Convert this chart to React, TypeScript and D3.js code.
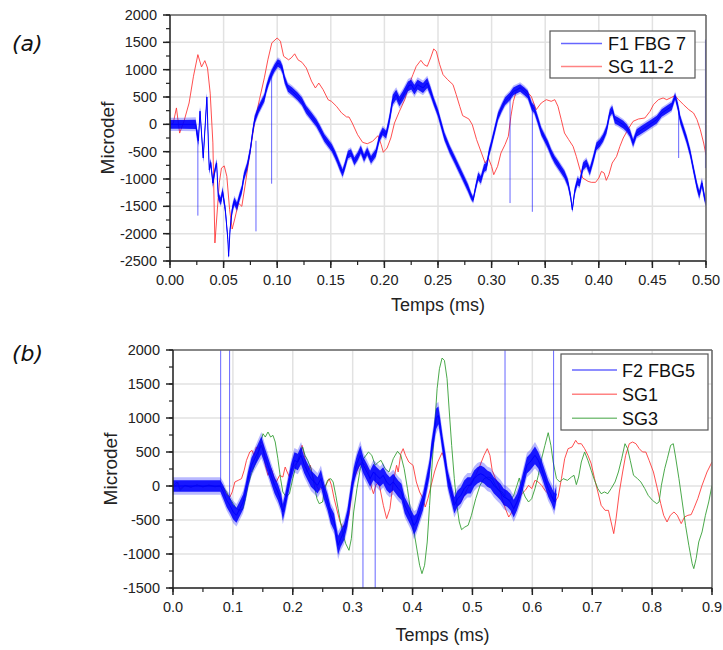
import React from 'react';
import * as d3 from 'd3';

type P2 = [number, number];
type P3 = [number, number, number];

// ---------- Panel (a) ----------
const aXTicks = [0, 0.05, 0.1, 0.15, 0.2, 0.25, 0.3, 0.35, 0.4, 0.45, 0.5];
const aYTicks = [-2500, -2000, -1500, -1000, -500, 0, 500, 1000, 1500, 2000];
const aSeriesNames = ['F1 FBG 7', 'SG 11-2'];

// F1 FBG 7: [time, centre, half-width of the noise band]
const fbg7: P3[] = [
  [0, 0, 80], [0.012, 0, 80], [0.024, 0, 85], [0.025, -150, 90], [0.0265, -300, 80], [0.028, 240, 70],
  [0.031, -616, 70], [0.0344, 500, 60], [0.0366, -830, 70], [0.038, -700, 60], [0.04, -1074, 70],
  [0.042, -830, 60], [0.0435, -708, 60], [0.045, -1318, 60], [0.0475, -1409, 70], [0.049, -1226, 70],
  [0.0516, -1562, 70], [0.054, -2110, 60], [0.0547, -2415, 40], [0.056, -1928, 60], [0.058, -1562, 70],
  [0.06, -1409, 70], [0.0625, -1500, 70], [0.065, -1318, 70], [0.067, -1196, 70], [0.069, -952, 70],
  [0.072, -769, 70], [0.075, -464, 70], [0.077, -159, 70], [0.079, 85, 70], [0.0825, 268, 70],
  [0.0856, 390, 70], [0.088, 482, 70], [0.0897, 634, 70], [0.092, 787, 70], [0.0944, 909, 70],
  [0.0975, 1031, 70], [0.1006, 1122, 70], [0.103, 1092, 70], [0.105, 1000, 70], [0.107, 817, 70],
  [0.11, 665, 70], [0.114, 604, 70], [0.119, 512, 70], [0.123, 421, 70], [0.127, 268, 70],
  [0.1319, 146, 70], [0.1366, 24, 70], [0.14, -98, 70], [0.144, -250, 70], [0.1475, -342, 70],
  [0.151, -433, 70], [0.154, -555, 70], [0.156, -647, 70], [0.1584, -769, 70], [0.161, -890, 70],
  [0.163, -769, 70], [0.166, -555, 70], [0.1688, -525, 70], [0.172, -677, 70], [0.175, -586, 70],
  [0.178, -464, 70], [0.181, -616, 70], [0.184, -494, 70], [0.1875, -647, 70], [0.192, -525, 70],
  [0.1953, -250, 70], [0.1984, -128, 70], [0.2016, -189, 70], [0.2047, 85, 80], [0.2078, 451, 90],
  [0.211, 543, 90], [0.214, 421, 90], [0.217, 512, 90], [0.222, 695, 90], [0.225, 726, 90],
  [0.228, 634, 90], [0.231, 726, 90], [0.236, 665, 90], [0.24, 756, 90], [0.243, 604, 80],
  [0.246, 421, 70], [0.25, 207, 70], [0.253, -6, 70], [0.256, -220, 70], [0.261, -464, 70],
  [0.2656, -647, 70], [0.27, -830, 70], [0.2744, -1013, 70], [0.278, -1165, 70], [0.281, -1318, 60],
  [0.2828, -1379, 50], [0.285, -1165, 60], [0.2875, -952, 70], [0.29, -1013, 70], [0.293, -800, 70],
  [0.2953, -769, 70], [0.2975, -525, 70], [0.3, -342, 70], [0.303, -98, 70], [0.306, 146, 70],
  [0.3094, 299, 70], [0.3125, 421, 70], [0.317, 512, 70], [0.3203, 604, 70], [0.3234, 634, 70],
  [0.3266, 665, 70], [0.3306, 604, 70], [0.3338, 543, 70], [0.3375, 329, 70], [0.34, 268, 70],
  [0.343, 85, 70], [0.3463, -128, 70], [0.3494, -250, 70], [0.3525, -372, 70], [0.3556, -525, 70],
  [0.3588, -647, 70], [0.3619, -738, 70], [0.365, -830, 70], [0.368, -921, 70], [0.3712, -1074, 70],
  [0.3737, -1318, 60], [0.3753, -1562, 40], [0.3775, -1226, 60], [0.38, -1043, 70], [0.3822, -1074, 70],
  [0.3853, -769, 70], [0.3884, -708, 70], [0.3916, -860, 70], [0.3947, -647, 70], [0.3978, -403, 70],
  [0.401, -342, 70], [0.404, -250, 70], [0.4072, -98, 70], [0.4103, 207, 70], [0.4125, 268, 70],
  [0.415, 85, 70], [0.418, 55, 70], [0.4228, -6, 70], [0.426, -67, 70], [0.429, -159, 70],
  [0.432, -342, 70], [0.4353, -159, 70], [0.44, -98, 70], [0.4447, -37, 70], [0.4494, 24, 70],
  [0.4541, 85, 70], [0.4587, 207, 70], [0.4634, 268, 70], [0.468, 329, 70], [0.4712, 512, 60],
  [0.4737, 329, 70], [0.476, 85, 70], [0.479, -98, 70], [0.482, -280, 70], [0.4853, -525, 70],
  [0.4884, -830, 70], [0.4916, -1135, 70], [0.4937, -1287, 70], [0.4962, -1074, 70], [0.4984, -1318, 70],
  [0.5, -1440, 60],
];
// isolated spikes of F1 FBG 7: [time, from, to]
const fbg7Spikes: P3[] = [
  [0.026, -100, -1670], [0.0802, -300, -1958], [0.0948, 900, -1086], [0.3172, 500, -1440],
  [0.338, 350, -1600], [0.4745, 300, -616], [0.4995, -800, 1550],
];
const sg112: P2[] = [
  [0, 0], [0.003, 20], [0.006, 300], [0.009, -160], [0.0131, 60], [0.0178, 390], [0.0219, 880],
  [0.026, 1275], [0.0294, 1050], [0.0325, 1165], [0.035, 1030], [0.0375, 570], [0.04, -340],
  [0.0419, -2170], [0.046, -1070], [0.048, -800], [0.0506, -760], [0.053, -950], [0.0556, -1560],
  [0.058, -1915], [0.0606, -1715], [0.0638, -1440], [0.067, -1500], [0.0709, -1010], [0.075, -460],
  [0.0788, 25], [0.0834, 450], [0.088, 850], [0.0913, 1180], [0.095, 1490], [0.1, 1580], [0.103, 1520],
  [0.106, 1245], [0.1106, 1180], [0.1131, 1215], [0.1163, 1290], [0.1194, 1180], [0.1231, 1135],
  [0.1272, 1030], [0.132, 790], [0.1356, 665], [0.1388, 755], [0.1428, 635], [0.1475, 450],
  [0.1506, 420], [0.1553, 330], [0.16, 210], [0.1647, 135], [0.167, 134], [0.17, 24], [0.175, -190],
  [0.1797, -330], [0.184, -355], [0.189, -310], [0.194, -207], [0.197, -370], [0.199, -512],
  [0.2025, -433], [0.206, -250], [0.2094, 24], [0.214, 238], [0.219, 451], [0.223, 726], [0.2266, 909],
  [0.2297, 1061], [0.234, 1171], [0.237, 1092], [0.24, 1061], [0.2431, 1214], [0.246, 1379],
  [0.2484, 1336], [0.2516, 1092], [0.2547, 909], [0.259, 817], [0.264, 726], [0.267, 543],
  [0.2703, 329], [0.273, 159], [0.2788, 98], [0.282, -6], [0.286, -280], [0.2906, -525], [0.294, -708],
  [0.297, -616], [0.3, -769], [0.302, -921], [0.3056, -769], [0.3087, -525], [0.3125, -372],
  [0.3156, -220], [0.318, 146], [0.3203, 421], [0.323, 604], [0.3266, 683], [0.3313, 634], [0.337, 512],
  [0.3416, 268], [0.3463, 390], [0.351, 451], [0.3556, 421], [0.359, 451], [0.3619, 329], [0.365, 85],
  [0.368, -159], [0.3719, -280], [0.376, -403], [0.379, -586], [0.382, -799], [0.385, -982],
  [0.39, -1043], [0.393, -1061], [0.397, -1061], [0.4, -982], [0.4025, -860], [0.405, -891],
  [0.407, -1025], [0.4094, -921], [0.4125, -708], [0.4166, -586], [0.4197, -403], [0.4228, -250],
  [0.4275, -85], [0.432, 55], [0.437, 98], [0.443, 116], [0.4478, 238], [0.451, 360], [0.4556, 451],
  [0.46, 482], [0.4634, 451], [0.468, 494], [0.471, 525], [0.4744, 451], [0.479, 360], [0.484, 268],
  [0.4884, 207], [0.4916, 85], [0.4947, -98], [0.4978, -342], [0.5, -560],
];

// ---------- Panel (b) ----------
const bXTicks = [0, 0.1, 0.2, 0.3, 0.4, 0.5, 0.6, 0.7, 0.8, 0.9];
const bYTicks = [-1500, -1000, -500, 0, 500, 1000, 1500, 2000];
const bSeriesNames = ['F2 FBG5', 'SG1', 'SG3'];

const fbg5: P3[] = [
  [0, 0, 85], [0.04, 0, 85], [0.079, 0, 85], [0.084, -88, 100], [0.0895, -210, 100], [0.095, -284, 110],
  [0.1006, -382, 110], [0.106, -431, 110], [0.1116, -333, 110], [0.117, -235, 110], [0.121, -88, 110],
  [0.1254, 108, 110], [0.131, 304, 110], [0.1365, 402, 110], [0.142, 500, 120], [0.1475, 598, 130],
  [0.153, 451, 120], [0.1586, 304, 120], [0.164, 157, 120], [0.1696, 10, 120], [0.175, -88, 120],
  [0.1807, -235, 120], [0.1834, -382, 120], [0.1873, -235, 120], [0.1917, -39, 120], [0.1972, 206, 120],
  [0.2028, 377, 120], [0.2083, 353, 120], [0.2138, 451, 130], [0.2193, 304, 120], [0.2249, 206, 120],
  [0.2304, 108, 120], [0.236, 59, 120], [0.2414, 10, 120], [0.247, 108, 130], [0.2525, -88, 120],
  [0.258, -235, 120], [0.2635, -431, 120], [0.269, -529, 120], [0.2718, -676, 120], [0.2757, -872, 140],
  [0.28, -774, 120], [0.2856, -676, 120], [0.291, -480, 120], [0.2967, -137, 120], [0.302, 157, 120],
  [0.307, 328, 120], [0.3127, 451, 140], [0.318, 304, 120], [0.3237, 206, 120], [0.3292, 108, 120],
  [0.3347, 206, 120], [0.34, 157, 120], [0.3457, 108, 120], [0.351, 157, 120], [0.3567, 59, 120],
  [0.362, 10, 120], [0.3678, 59, 120], [0.376, -39, 120], [0.3815, -88, 120], [0.387, -284, 120],
  [0.3926, -382, 120], [0.398, -480, 120], [0.4025, -578, 140], [0.4063, -529, 120], [0.4118, -382, 120],
  [0.4174, -235, 120], [0.4229, 10, 120], [0.4284, 255, 120], [0.4311, 500, 120], [0.4355, 745, 130],
  [0.4394, 990, 150], [0.4432, 1039, 130], [0.4466, 843, 120], [0.4504, 598, 120], [0.4548, 353, 120],
  [0.4587, 108, 120], [0.4642, -88, 120], [0.4697, -284, 120], [0.4752, -186, 120], [0.4807, -137, 120],
  [0.4862, -39, 120], [0.4917, 10, 120], [0.4972, 10, 120], [0.5028, 108, 120], [0.5083, 157, 120],
  [0.5138, 181, 120], [0.5193, 157, 120], [0.5248, 108, 120], [0.5303, 83, 120], [0.5358, 10, 120],
  [0.5413, -39, 120], [0.5468, -88, 120], [0.5524, -162, 120], [0.5579, -186, 120], [0.5634, -235, 120],
  [0.5689, -333, 130], [0.5744, -235, 120], [0.5799, -88, 120], [0.5854, 108, 120], [0.5909, 304, 120],
  [0.5964, 353, 120], [0.6044, 451, 130], [0.61, 377, 120], [0.6155, 255, 120], [0.621, 108, 120],
  [0.6265, -39, 120], [0.632, -137, 120], [0.6365, -235, 130], [0.64, -113, 110],
];
const fbg5Spikes: P3[] = [
  [0.0796, 0, 2600], [0.0945, -200, 2600], [0.3172, 350, -2000], [0.3376, 200, -2000],
  [0.5544, -150, 2600], [0.6355, -200, 2600],
];
const sg1: P2[] = [
  [0, 0], [0.004, 0], [0.008, 59], [0.012, -39], [0.02, 10], [0.03, -20], [0.04, 15], [0.05, -15],
  [0.06, 15], [0.07, -10], [0.08, 0], [0.084, -39], [0.0895, -113], [0.095, -162], [0.0989, -88],
  [0.1033, 59], [0.1088, 83], [0.1144, 108], [0.1188, 230], [0.1227, 377], [0.1282, 500], [0.132, 524],
  [0.1354, 451], [0.139, 573], [0.143, 549], [0.1475, 647], [0.1503, 598], [0.1541, 304], [0.1586, 157],
  [0.164, 255], [0.1685, 132], [0.1724, 59], [0.178, 157], [0.1834, 132], [0.1873, 279], [0.1906, 206],
  [0.1945, 132], [0.1983, 255], [0.2028, 304], [0.2083, 353], [0.2127, 451], [0.2155, 598], [0.2193, 451],
  [0.2238, 206], [0.2293, 304], [0.2337, 132], [0.2387, 10], [0.2442, -64], [0.2497, -15], [0.2552, 10],
  [0.2608, 108], [0.2646, 10], [0.2691, -186], [0.2746, -382], [0.279, -529], [0.2829, -603],
  [0.2884, -578], [0.2939, -431], [0.2967, -235], [0.299, 59], [0.3045, 157], [0.31, 279], [0.3154, 353],
  [0.321, 304], [0.3264, 206], [0.332, -39], [0.3347, -113], [0.3386, 10], [0.343, 59], [0.3457, -39],
  [0.3512, -284], [0.3567, -480], [0.3622, -333], [0.3678, 59], [0.3733, 304], [0.376, 206], [0.3804, 475],
  [0.3843, 549], [0.3882, 451], [0.3937, 353], [0.4008, 304], [0.4063, 59], [0.4118, -88], [0.4174, -186],
  [0.4212, -309], [0.4256, -186], [0.4311, 10], [0.4366, 206], [0.4421, 353], [0.4493, 490], [0.4543, 377],
  [0.4587, 157], [0.4642, -39], [0.4697, -235], [0.4752, -284], [0.4807, -235], [0.4862, -137],
  [0.4917, -39], [0.4983, 59], [0.5055, 157], [0.5127, 304], [0.5193, 451], [0.5248, 549], [0.5292, 451],
  [0.533, 230], [0.5385, 108], [0.544, 10], [0.5496, -186], [0.555, -333], [0.5606, -456], [0.5661, -382],
  [0.5716, -284], [0.5771, -186], [0.5826, -113], [0.5882, -64], [0.5937, 10], [0.599, -39], [0.6044, 83],
  [0.61, 59], [0.6155, 10], [0.621, -64], [0.6265, -113], [0.632, -162], [0.6376, -235], [0.643, -162],
  [0.6486, 108], [0.654, 402], [0.6597, 549], [0.6663, 573], [0.6724, 671], [0.6762, 622], [0.6818, 622],
  [0.6873, 549], [0.6928, 451], [0.6983, 328], [0.7039, 108], [0.7094, -88], [0.7149, -284], [0.7215, -358],
  [0.7271, -358], [0.7315, -529], [0.7359, -700], [0.7398, -480], [0.7453, -88], [0.7508, 206],
  [0.7558, 451], [0.7619, 622], [0.7674, 647], [0.773, 622], [0.7785, 549], [0.784, 500], [0.7895, 500],
  [0.795, 377], [0.8022, 206], [0.8088, -39], [0.8144, -260], [0.8193, -431], [0.8249, -529],
  [0.8304, -431], [0.8365, -382], [0.842, -431], [0.8486, -553], [0.8541, -456], [0.8597, -431],
  [0.8652, -421], [0.8696, -333], [0.8763, -186], [0.8834, 10], [0.8917, 206], [0.9, 353],
];
const sg3: P2[] = [
  [0, 0], [0.0066, 59], [0.012, -64], [0.02, 10], [0.03, -15], [0.04, 15], [0.05, -10], [0.06, 10],
  [0.07, -10], [0.08, 0], [0.084, -15], [0.0895, -88], [0.095, -186], [0.1006, -260], [0.106, -333],
  [0.1116, -358], [0.117, -333], [0.121, -186], [0.1254, 10], [0.131, 181], [0.1365, 304], [0.142, 451],
  [0.1464, 647], [0.1503, 769], [0.1541, 720], [0.1586, 794], [0.163, 720], [0.1669, 745], [0.1707, 647],
  [0.1751, 402], [0.1796, 108], [0.1834, -88], [0.189, -162], [0.1945, -113], [0.2, 108], [0.2055, 304],
  [0.211, 451], [0.2166, 573], [0.2204, 451], [0.2249, 377], [0.2304, 255], [0.236, 10], [0.2403, -186],
  [0.2442, -260], [0.2497, -235], [0.2536, -39], [0.258, 83], [0.2635, 108], [0.2674, 59], [0.2718, -137],
  [0.2757, -333], [0.2801, -553], [0.2845, -725], [0.2884, -848], [0.2939, -946], [0.2978, -774],
  [0.3017, -382], [0.3072, -39], [0.3127, 255], [0.3182, 402], [0.3264, 500], [0.332, 451], [0.3375, 304],
  [0.343, 353], [0.3474, 377], [0.354, 255], [0.3606, 206], [0.3678, 402], [0.3749, 510], [0.3804, 451],
  [0.386, 255], [0.3915, -39], [0.397, -382], [0.4025, -676], [0.408, -970], [0.4118, -1166],
  [0.4157, -1289], [0.4201, -1166], [0.4245, -823], [0.4284, -284], [0.4322, 255], [0.4366, 843],
  [0.441, 1431], [0.4449, 1725], [0.4493, 1882], [0.4532, 1847], [0.4576, 1578], [0.4614, 1088],
  [0.4653, 598], [0.4697, 108], [0.4741, -284], [0.478, -529], [0.4818, -642], [0.4873, -603],
  [0.4928, -578], [0.4983, -431], [0.5055, -186], [0.5127, 10], [0.5193, 108], [0.5259, 132], [0.533, 108],
  [0.5385, 10], [0.544, -64], [0.5496, -88], [0.5567, -186], [0.5633, -211], [0.5689, -137], [0.5744, 10],
  [0.5782, 118], [0.5826, -39], [0.5882, -162], [0.5937, -235], [0.599, -186], [0.6044, -39], [0.61, 157],
  [0.6155, 402], [0.621, 598], [0.6265, 784], [0.631, 598], [0.6348, 353], [0.6403, 108], [0.6459, 59],
  [0.6514, 108], [0.6586, 83], [0.6652, 132], [0.6696, 157], [0.6735, 20], [0.6773, 132], [0.6818, 353],
  [0.6873, 500], [0.6928, 377], [0.6983, 230], [0.7039, 83], [0.7094, -39], [0.7149, -113], [0.7204, -88],
  [0.726, -113], [0.7315, -39], [0.7381, 59], [0.7437, 206], [0.7492, 402], [0.7547, 622], [0.7591, 549],
  [0.7635, 377], [0.769, 157], [0.7757, 108], [0.7812, 59], [0.7878, -39], [0.7934, -137], [0.8006, -211],
  [0.8077, -260], [0.8116, -235], [0.8155, 10], [0.821, 255], [0.8254, 402], [0.8309, 598], [0.8354, 622],
  [0.8392, 426], [0.8448, 108], [0.8503, -235], [0.8558, -578], [0.8613, -872], [0.8669, -1142],
  [0.8696, -1215], [0.8735, -1068], [0.8779, -823], [0.8834, -676], [0.889, -431], [0.8945, -235], [0.9, 10],
];

const BLUE = '#0000ff';
const RED = '#ff3030';
const GREEN = '#2c9a2c';
const FONT = '"Liberation Sans", Arial, sans-serif';

type PanelProps = {
  id: string;
  box: { x0: number; x1: number; y0: number; y1: number };
  xTicks: number[];
  yTicks: number[];
  xFmt: (v: number) => string;
  xMinorStep: number;
  yMinorStep: number;
  band: P3[];
  spikes: P3[];
  lines: { data: P2[]; color: string }[];
  legend: { names: string[]; colors: string[]; x0: number; x1: number; y0: number; y1: number; lx0: number; lx1: number; tx: number; rowY: number[] };
  label: string;
  labelY: number;
  titleY: number;
};

function Panel(p: PanelProps) {
  const { box } = p;
  const xd = [p.xTicks[0], p.xTicks[p.xTicks.length - 1]];
  const yd = [p.yTicks[0], p.yTicks[p.yTicks.length - 1]];
  const x = d3.scaleLinear().domain(xd).range([box.x0, box.x1]);
  const y = d3.scaleLinear().domain(yd).range([box.y1, box.y0]);
  const xMinor = d3.range(xd[0], xd[1] + 1e-9, p.xMinorStep);
  const yMinor = d3.range(yd[0], yd[1] + 1e-9, p.yMinorStep);
  const line = d3.line<P2>().x(d => x(d[0])).y(d => y(d[1]));
  const outer = d3.area<P3>().x(d => x(d[0])).y0(d => y(d[1] - d[2] * 1.5)).y1(d => y(d[1] + d[2] * 1.5));
  const inner = d3.area<P3>().x(d => x(d[0])).y0(d => y(d[1] - d[2])).y1(d => y(d[1] + d[2]));
  const centre = d3.line<P3>().x(d => x(d[0])).y(d => y(d[1]));
  const clip = `clip-${p.id}`;
  const lg = p.legend;
  return (
    <g>
      <defs>
        <clipPath id={clip}>
          <rect x={box.x0} y={box.y0} width={box.x1 - box.x0} height={box.y1 - box.y0} />
        </clipPath>
      </defs>
      {/* grid */}
      {p.xTicks.map(t => (
        <line key={'gx' + t} x1={x(t)} x2={x(t)} y1={box.y0} y2={box.y1} stroke="#e2e2e2" strokeWidth={1.5} />
      ))}
      {p.yTicks.map(t => (
        <line key={'gy' + t} x1={box.x0} x2={box.x1} y1={y(t)} y2={y(t)} stroke="#e2e2e2" strokeWidth={1.5} />
      ))}
      <g clipPath={`url(#${clip})`}>
        {p.lines.map((l, i) => (
          <path key={'l' + i} d={line(l.data) || ''} fill="none" stroke={l.color} strokeWidth={1} strokeOpacity={0.85} />
        ))}
        <path d={outer(p.band) || ''} fill={BLUE} fillOpacity={0.28} />
        <path d={inner(p.band) || ''} fill={BLUE} fillOpacity={0.88} />
        <path d={centre(p.band) || ''} fill="none" stroke={BLUE} strokeWidth={1} />
        {p.spikes.map((s, i) => (
          <line key={'s' + i} x1={x(s[0])} x2={x(s[0])} y1={y(s[1])} y2={y(s[2])} stroke={BLUE} strokeWidth={1} strokeOpacity={0.6} />
        ))}
      </g>
      {/* frame */}
      <line x1={box.x0} x2={box.x1} y1={box.y0} y2={box.y0} stroke="#666" strokeWidth={1.5} />
      <line x1={box.x1} x2={box.x1} y1={box.y0} y2={box.y1} stroke="#666" strokeWidth={1.5} />
      {/* axes */}
      <line x1={box.x0} x2={box.x0} y1={box.y0} y2={box.y1 + 0.75} stroke="#222" strokeWidth={1.5} />
      <line x1={box.x0 - 0.75} x2={box.x1} y1={box.y1} y2={box.y1} stroke="#222" strokeWidth={1.5} />
      {xMinor.map((t, i) => (
        <line key={'xm' + i} x1={x(t)} x2={x(t)} y1={box.y1} y2={box.y1 + 4} stroke="#222" strokeWidth={1.2} />
      ))}
      {p.xTicks.map(t => (
        <line key={'xt' + t} x1={x(t)} x2={x(t)} y1={box.y1} y2={box.y1 + 7} stroke="#222" strokeWidth={1.5} />
      ))}
      {yMinor.map((t, i) => (
        <line key={'ym' + i} x1={box.x0 - 4} x2={box.x0} y1={y(t)} y2={y(t)} stroke="#222" strokeWidth={1.2} />
      ))}
      {p.yTicks.map(t => (
        <line key={'yt' + t} x1={box.x0 - 7} x2={box.x0} y1={y(t)} y2={y(t)} stroke="#222" strokeWidth={1.5} />
      ))}
      {p.xTicks.map(t => (
        <text key={'xl' + t} x={x(t)} y={box.y1 + 24} textAnchor="middle" fontSize={14.5} fontFamily={FONT} fill="#222">
          {p.xFmt(t)}
        </text>
      ))}
      {p.yTicks.map(t => (
        <text key={'yl' + t} x={box.x0 - 13} y={y(t) + 5} textAnchor="end" fontSize={14.5} fontFamily={FONT} fill="#222">
          {String(t)}
        </text>
      ))}
      {/* titles */}
      <text x={(box.x0 + box.x1) / 2} y={p.titleY} textAnchor="middle" fontSize={18} fontFamily={FONT} fill="#222">
        Temps (ms)
      </text>
      <text
        transform={`translate(${box.x0 - 56},${(box.y0 + box.y1) / 2}) rotate(-90)`}
        textAnchor="middle" fontSize={19} fontFamily={FONT} fill="#222">
        Microdef
      </text>
      <text x={12} y={p.labelY} fontSize={22} fontStyle="italic" fontFamily='"DejaVu Sans", Verdana, sans-serif' fill="#111">
        {p.label}
      </text>
      {/* legend */}
      <rect x={lg.x0} y={lg.y0} width={lg.x1 - lg.x0} height={lg.y1 - lg.y0} fill="white" stroke="#555" strokeWidth={1.2} />
      {lg.names.map((n, i) => (
        <g key={'lg' + i}>
          <line x1={lg.lx0} x2={lg.lx1} y1={lg.rowY[i]} y2={lg.rowY[i]} stroke={lg.colors[i]} strokeWidth={1.5} strokeOpacity={0.6} />
          <text x={lg.tx} y={lg.rowY[i] + 6.5} fontSize={18} fontFamily={FONT} fill="#111">{n}</text>
        </g>
      ))}
    </g>
  );
}

export default function App() {
  return (
    <svg width={723} height={650} style={{ position: 'absolute', left: 0, top: 0, background: 'white' }}>
      <rect x={0} y={0} width={723} height={650} fill="white" />
      <Panel
        id="a"
        box={{ x0: 170, x1: 706, y0: 15, y1: 261 }}
        xTicks={aXTicks}
        yTicks={aYTicks}
        xFmt={d3.format('.2f')}
        xMinorStep={0.025}
        yMinorStep={250}
        band={fbg7}
        spikes={fbg7Spikes}
        lines={[{ data: sg112, color: RED }]}
        legend={{ names: aSeriesNames, colors: [BLUE, RED], x0: 550, x1: 695, y0: 31, y1: 78, lx0: 561, lx1: 602, tx: 608, rowY: [43.5, 66.5] }}
        label="(a)"
        labelY={50.5}
        titleY={311}
      />
      <Panel
        id="b"
        box={{ x0: 173, x1: 712, y0: 350, y1: 588 }}
        xTicks={bXTicks}
        yTicks={bYTicks}
        xFmt={d3.format('.1f')}
        xMinorStep={0.05}
        yMinorStep={250}
        band={fbg5}
        spikes={fbg5Spikes}
        lines={[{ data: sg1, color: RED }, { data: sg3, color: GREEN }]}
        legend={{ names: bSeriesNames, colors: [BLUE, RED, GREEN], x0: 561, x1: 708, y0: 354, y1: 430, lx0: 572, lx1: 617, tx: 622, rowY: [370, 394.3, 418.3] }}
        label="(b)"
        labelY={360.5}
        titleY={641}
      />
    </svg>
  );
}
